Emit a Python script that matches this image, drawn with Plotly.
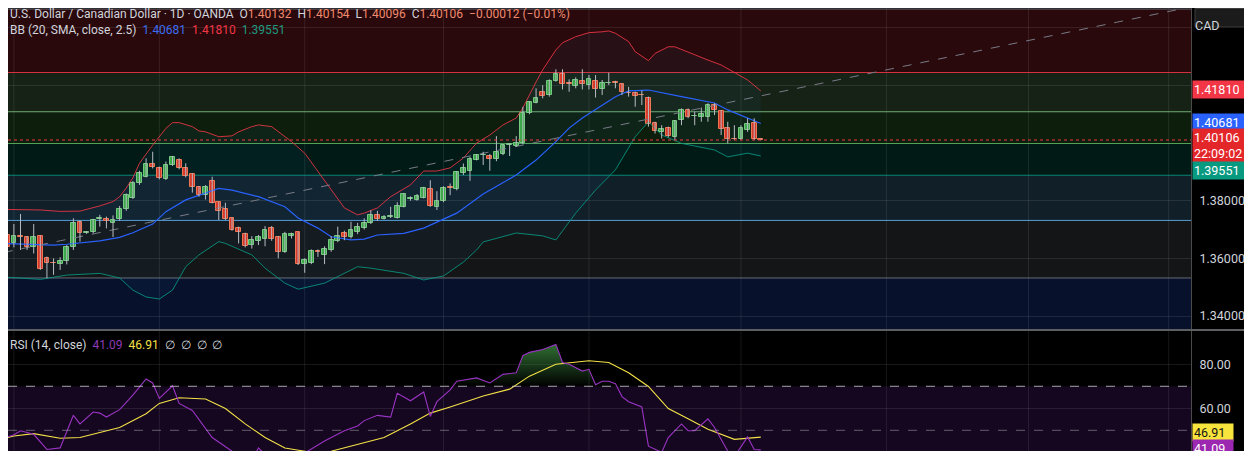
import plotly.graph_objects as go

# USD/CAD daily candles (OANDA), oldest first
opens = [1.3672, 1.3681, 1.3652, 1.3676, 1.3673, 1.3640, 1.3677, 1.3600, 1.3584, 1.3579,
         1.3591, 1.3638, 1.3725, 1.3687, 1.3693, 1.3737, 1.3737, 1.3721, 1.3735, 1.3771,
         1.3808, 1.3860, 1.3883, 1.3926, 1.3913, 1.3874, 1.3924, 1.3942, 1.3913, 1.3892,
         1.3846, 1.3819, 1.3869, 1.3794, 1.3770, 1.3739, 1.3704, 1.3686, 1.3648, 1.3661,
         1.3666, 1.3704, 1.3673, 1.3623, 1.3679, 1.3690, 1.3582, 1.3585, 1.3624, 1.3611,
         1.3629, 1.3659, 1.3689, 1.3675, 1.3693, 1.3704, 1.3721, 1.3750, 1.3738, 1.3745,
         1.3741, 1.3779, 1.3806, 1.3804, 1.3811, 1.3839, 1.3779, 1.3800, 1.3846, 1.3839,
         1.3897, 1.3904, 1.3943, 1.3958, 1.3954, 1.3944, 1.3961, 1.3993, 1.3990, 1.3999,
         1.4103, 1.4140, 1.4176, 1.4167, 1.4216, 1.4239, 1.4208, 1.4199, 1.4215, 1.4201,
         1.4216, 1.4186, 1.4208, 1.4211, 1.4205, 1.4173, 1.4172, 1.4167, 1.4158, 1.4068,
         1.4039, 1.4051, 1.4020, 1.4080, 1.4115, 1.4093, 1.4089, 1.4091, 1.4132, 1.4111,
         1.4051, 1.4015, 1.4013, 1.4047, 1.4068, 1.40132]
highs = [1.3711, 1.3698, 1.3719, 1.3754, 1.3677, 1.3719, 1.3679, 1.3606, 1.3600, 1.3604,
         1.3646, 1.3739, 1.3731, 1.3695, 1.3737, 1.3751, 1.3745, 1.3749, 1.3782, 1.3825,
         1.3868, 1.3904, 1.3947, 1.3970, 1.3918, 1.3936, 1.3955, 1.3947, 1.3930, 1.3895,
         1.3851, 1.3854, 1.3883, 1.3796, 1.3793, 1.3742, 1.3710, 1.3689, 1.3677, 1.3681,
         1.3712, 1.3712, 1.3677, 1.3692, 1.3689, 1.3692, 1.3600, 1.3631, 1.3631, 1.3642,
         1.3677, 1.3710, 1.3696, 1.3727, 1.3723, 1.3739, 1.3767, 1.3765, 1.3750, 1.3779,
         1.3795, 1.3826, 1.3815, 1.3823, 1.3848, 1.3871, 1.3833, 1.3850, 1.3860, 1.3902,
         1.3929, 1.3952, 1.3962, 1.3970, 1.3962, 1.4024, 1.3996, 1.3999, 1.4024, 1.4126,
         1.4145, 1.4190, 1.4201, 1.4221, 1.4256, 1.4256, 1.4221, 1.4228, 1.4256, 1.4236,
         1.4236, 1.4219, 1.4244, 1.4216, 1.4207, 1.4195, 1.4178, 1.4182, 1.4161, 1.4074,
         1.4062, 1.4057, 1.4080, 1.4120, 1.4120, 1.4109, 1.4123, 1.4138, 1.4138, 1.4114,
         1.4074, 1.4062, 1.4062, 1.4086, 1.4086, 1.40154]
lows = [1.3658, 1.3629, 1.3638, 1.3629, 1.3629, 1.3617, 1.3560, 1.3531, 1.3543, 1.3560,
        1.3579, 1.3629, 1.3658, 1.3685, 1.3687, 1.3710, 1.3704, 1.3674, 1.3731, 1.3765,
        1.3806, 1.3855, 1.3881, 1.3912, 1.3874, 1.3872, 1.3921, 1.3909, 1.3881, 1.3828,
        1.3814, 1.3804, 1.3791, 1.3733, 1.3733, 1.3696, 1.3652, 1.3638, 1.3634, 1.3646,
        1.3642, 1.3661, 1.3600, 1.3619, 1.3669, 1.3577, 1.3550, 1.3580, 1.3605, 1.3580,
        1.3623, 1.3656, 1.3663, 1.3669, 1.3684, 1.3700, 1.3719, 1.3730, 1.3735, 1.3740,
        1.3738, 1.3777, 1.3800, 1.3800, 1.3808, 1.3779, 1.3768, 1.3795, 1.3819, 1.3836,
        1.3889, 1.3869, 1.3940, 1.3924, 1.3904, 1.3937, 1.3958, 1.3955, 1.3987, 1.3996,
        1.4100, 1.4138, 1.4155, 1.4161, 1.4213, 1.4186, 1.4178, 1.4190, 1.4186, 1.4186,
        1.4158, 1.4167, 1.4201, 1.4190, 1.4167, 1.4161, 1.4126, 1.4132, 1.4057, 1.4033,
        1.4016, 1.4020, 1.4010, 1.4062, 1.4086, 1.4062, 1.4074, 1.4074, 1.4097, 1.4028,
        1.3999, 1.4010, 1.4010, 1.4039, 1.4010, 1.40096]
closes = [1.3686, 1.3640, 1.3677, 1.3674, 1.3640, 1.3673, 1.3562, 1.3585, 1.3583, 1.3592,
          1.3638, 1.3721, 1.3687, 1.3693, 1.3733, 1.3740, 1.3728, 1.3733, 1.3773, 1.3821,
          1.3863, 1.3895, 1.3926, 1.3916, 1.3878, 1.3924, 1.3951, 1.3913, 1.3887, 1.3846,
          1.3819, 1.3846, 1.3793, 1.3765, 1.3735, 1.3700, 1.3692, 1.3642, 1.3663, 1.3673,
          1.3698, 1.3666, 1.3623, 1.3684, 1.3683, 1.3580, 1.3594, 1.3626, 1.3622, 1.3634,
          1.3664, 1.3677, 1.3675, 1.3698, 1.3710, 1.3723, 1.3750, 1.3735, 1.3742, 1.3748,
          1.3783, 1.3823, 1.3809, 1.3816, 1.3845, 1.3781, 1.3799, 1.3845, 1.3843, 1.3898,
          1.3914, 1.3944, 1.3957, 1.3959, 1.3944, 1.3968, 1.3992, 1.3996, 1.3999, 1.4106,
          1.4141, 1.4158, 1.4164, 1.4216, 1.4238, 1.4205, 1.4206, 1.4219, 1.4204, 1.4222,
          1.4186, 1.4207, 1.4210, 1.4209, 1.4178, 1.4172, 1.4163, 1.4166, 1.4065, 1.4043,
          1.4048, 1.4025, 1.4076, 1.4115, 1.4091, 1.4094, 1.4101, 1.4132, 1.4114, 1.4049,
          1.4013, 1.4014, 1.4051, 1.4065, 1.4014, 1.40106]

# Bollinger Bands (20, SMA, close, 2.5) sampled at bar index
bb_up_idx = [0, 3, 6, 9, 12, 15, 17, 18, 19, 20, 21, 23, 25, 26, 27, 29, 30, 31, 33, 35,
             36, 38, 39, 41, 42, 44, 46, 48, 50, 52, 54, 55, 57, 59, 62, 64, 66, 68, 70, 72,
             74, 76, 78, 79, 81, 82, 84, 85, 87, 89, 91, 92, 93, 95, 96, 98, 99, 101, 102, 104,
             105, 107, 109, 111, 113, 115]
bb_upper = [1.3770, 1.3770, 1.3768, 1.3763, 1.3764, 1.3782, 1.3797, 1.3814, 1.3844, 1.3879,
            1.3930, 1.3993, 1.4051, 1.4071, 1.4071, 1.4057, 1.4042, 1.4039, 1.4022, 1.4025,
            1.4039, 1.4057, 1.4063, 1.4057, 1.4039, 1.4005, 1.3965, 1.3901, 1.3837, 1.3775,
            1.3751, 1.3757, 1.3775, 1.3814, 1.3855, 1.3903, 1.3903, 1.3914, 1.3948, 1.4000,
            1.4028, 1.4063, 1.4087, 1.4122, 1.4212, 1.4254, 1.4323, 1.4348, 1.4369, 1.4383,
            1.4386, 1.4389, 1.4381, 1.4352, 1.4317, 1.4286, 1.4311, 1.4334, 1.4334, 1.4315,
            1.4306, 1.4288, 1.4271, 1.4244, 1.4219, 1.41810]
bb_mid_idx = [0, 5, 8, 10, 15, 18, 20, 23, 25, 28, 30, 33, 35, 39, 43, 45, 48, 50, 53, 55,
              57, 61, 64, 69, 73, 78, 81, 84, 86, 88, 93, 95, 98, 100, 103, 108, 110, 115]
bb_middle = [1.3652, 1.3649, 1.3646, 1.3649, 1.3661, 1.3673, 1.3689, 1.3719, 1.3762, 1.3803,
             1.3820, 1.3843, 1.3837, 1.3814, 1.3779, 1.3740, 1.3705, 1.3675, 1.3664, 1.3667,
             1.3681, 1.3687, 1.3705, 1.3757, 1.3823, 1.3889, 1.3941, 1.4005, 1.4052, 1.4087,
             1.4161, 1.4181, 1.4184, 1.4174, 1.4161, 1.4139, 1.4115, 1.40681]
bb_low_idx = [0, 6, 10, 15, 18, 20, 22, 24, 26, 28, 30, 33, 34, 38, 40, 43, 45, 49, 54, 56,
              61, 64, 67, 70, 72, 73, 78, 82, 84, 87, 90, 93, 96, 98, 100, 103, 108, 110, 113, 115]
bb_lower = [1.3536, 1.3527, 1.3542, 1.3548, 1.3532, 1.3490, 1.3466, 1.3459, 1.3490, 1.3571,
            1.3612, 1.3658, 1.3652, 1.3612, 1.3566, 1.3514, 1.3493, 1.3514, 1.3571, 1.3566,
            1.3548, 1.3525, 1.3539, 1.3587, 1.3629, 1.3657, 1.3688, 1.3678, 1.3664, 1.3757,
            1.3837, 1.3907, 1.4022, 1.4074, 1.4028, 1.3999, 1.3976, 1.3952, 1.3965, 1.39551]

# RSI (14, close) and its 14 SMA, sampled at bar index
rsi_idx = [0, 2, 3, 5, 7, 9, 11, 12, 14, 15, 16, 18, 20, 22, 23, 24, 26, 27, 29, 30,
           32, 35, 36, 38, 39, 40, 42, 44, 45, 46, 49, 52, 54, 55, 57, 59, 60, 62, 64, 65,
           66, 68, 69, 72, 74, 76, 78, 79, 80, 82, 84, 85, 86, 88, 89, 90, 91, 92, 93, 94,
           95, 97, 98, 100, 101, 103, 104, 105, 107, 108, 110, 111, 113, 114, 115]
rsi_vals = [45.9, 48.0, 49.8, 48.2, 41.3, 42.0, 56.8, 52.9, 58.3, 57.8, 56.0, 59.4, 66.0, 73.3, 71.5,
            64.5, 70.2, 62.2, 59.0, 54.7, 46.7, 40.5, 37.5, 36.0, 42.0, 39.0, 36.0, 37.0, 32.0, 39.7,
            45.1, 49.8, 52.0, 54.4, 56.8, 56.0, 66.8, 63.4, 67.4, 56.3, 63.0, 68.4, 72.3, 73.8, 71.5,
            75.4, 76.1, 83.9, 85.4, 86.7, 89.0, 80.8, 80.0, 76.9, 77.7, 70.7, 72.3, 72.3, 71.2, 65.3,
            63.0, 60.6, 42.8, 40.0, 46.7, 52.9, 49.8, 49.8, 55.2, 51.3, 40.5, 38.0, 47.0, 41.3, 41.09]
rsi_ma_idx = [0, 2, 5, 7, 9, 12, 15, 18, 22, 24, 27, 31, 34, 37, 40, 43, 46, 48, 50, 54,
              58, 62, 65, 68, 73, 77, 80, 84, 89, 92, 95, 98, 101, 104, 107, 111, 113, 115]
rsi_ma = [45.9, 47.4, 48.5, 47.4, 46.4, 46.7, 49.0, 51.3, 57.5, 62.2, 64.8, 64.2, 59.9, 52.9,
          46.7, 42.0, 40.5, 39.2, 40.5, 43.6, 46.7, 52.9, 57.8, 60.6, 65.6, 68.7, 74.6, 80.0,
          81.6, 80.8, 76.1, 69.9, 59.9, 55.2, 50.5, 45.9, 46.4, 46.91]

# Fib retracement anchors
fib_high = 1.4465
fib_low = 1.3532
fib_levels = [0, 0.236, 0.382, 0.5, 0.618, 0.786, 1, 1.618]
fib_colors = ["#787b86", "#f23645", "#81c784", "#4caf50", "#089981", "#64b5f6", "#787b86", "#2962ff"]
trend_idx = [-18.2, 178.5]

last_price = 1.40106
month_lines = [2, 24, 46, 67, 89, 112, 134, 155.5, 176.7]

# the page body keeps an 8px margin, so the figure is drawn 8px smaller
# and every screen position below is given in window pixels minus OFF
OFF = 8
W, H = 1252 - OFF, 451 - OFF
BAR_PX = 6.61
PX_PRICE = 2882.5
FONT = "Roboto"
TXT = "#d1d4dc"
GREEN, GREEN_EDGE = "#3fa843", "#7ccb7c"
RED, RED_EDGE = "#e0341f", "#f7764f"


def px(x):
    return (x - OFF) / W


def py(y):
    return 1 - (y - OFF) / H


def rgba(hex_color, a):
    h = hex_color.lstrip("#")
    return "rgba(%d,%d,%d,%s)" % (int(h[0:2], 16), int(h[2:4], 16), int(h[4:6], 16), a)


n = len(closes)
idx = list(range(n))
up = [c >= o for o, c in zip(opens, closes)]

fig = go.Figure()

# Bollinger bands with soft background
fig.add_trace(go.Scatter(x=bb_up_idx, y=bb_upper, mode="lines",
                         line=dict(color=rgba("#f23645", 0.85), width=1)))
fig.add_trace(go.Scatter(x=bb_low_idx, y=bb_lower, mode="lines", fill="tonexty",
                         fillcolor="rgba(33,150,243,0.05)",
                         line=dict(color=rgba("#089981", 0.85), width=1)))
fig.add_trace(go.Scatter(x=bb_mid_idx, y=bb_middle, mode="lines",
                         line=dict(color="#2962ff", width=1.2)))

# fib trend line
fig.add_trace(go.Scatter(x=trend_idx, y=[fib_low, fib_high], mode="lines",
                         line=dict(color="#787b86", width=1, dash="dash")))

# candle wicks
wx, wy = [], []
for i in idx:
    wx += [i, i, None]
    wy += [lows[i], highs[i], None]
fig.add_trace(go.Scatter(x=wx, y=wy, mode="lines", line=dict(color="#b8bcc4", width=1)))

# candle bodies
fig.add_trace(go.Bar(
    x=idx,
    base=[min(o, c) for o, c in zip(opens, closes)],
    y=[max(abs(c - o), 0.00003) for o, c in zip(opens, closes)],
    width=0.72,
    marker=dict(color=[GREEN if u else RED for u in up],
                line=dict(color=[GREEN_EDGE if u else RED_EDGE for u in up], width=1)),
))

# RSI pane
fig.add_trace(go.Scatter(x=rsi_idx, y=[70] * len(rsi_idx), mode="lines",
                         line=dict(width=0), xaxis="x2", yaxis="y2"))
fig.add_trace(go.Scatter(
    x=rsi_idx, y=[max(v, 70) for v in rsi_vals], mode="lines", fill="tonexty",
    fillgradient=dict(type="vertical", start=70, stop=100,
                      colorscale=[[0, "rgba(76,175,80,0)"], [1, "rgba(76,175,80,1)"]]),
    line=dict(width=0), xaxis="x2", yaxis="y2"))
fig.add_trace(go.Scatter(x=rsi_ma_idx, y=rsi_ma, mode="lines",
                         line=dict(color="#f5e148", width=1.1), xaxis="x2", yaxis="y2"))
fig.add_trace(go.Scatter(x=rsi_idx, y=rsi_vals, mode="lines",
                         line=dict(color="#9b34c4", width=1.1), xaxis="x2", yaxis="y2"))

# shapes: fib zones and levels, grid, separators
shapes = []
fib_prices = [fib_high - lv * (fib_high - fib_low) for lv in fib_levels]
for i in range(1, len(fib_prices)):
    shapes.append(dict(type="rect", xref="x domain", yref="y", x0=0, x1=1,
                       y0=fib_prices[i - 1], y1=fib_prices[i], layer="below",
                       fillcolor=rgba(fib_colors[i], 0.17), line=dict(width=0)))
shapes.append(dict(type="rect", xref="x2 domain", yref="y2", x0=0, x1=1, y0=30, y1=70,
                   layer="below", fillcolor="#14071f", line=dict(width=0)))
for m in month_lines:
    for xr, yr in [("x", "y domain"), ("x2", "y2 domain")]:
        shapes.append(dict(type="line", xref=xr, yref=yr, x0=m, x1=m, y0=0, y1=1,
                           layer="below", line=dict(color="rgba(255,255,255,0.09)", width=1)))
for p, col in zip(fib_prices, fib_colors):
    shapes.append(dict(type="line", xref="x domain", yref="y", x0=0, x1=1, y0=p, y1=p,
                       layer="below", line=dict(color=rgba(col, 0.85), width=1)))
shapes.append(dict(type="line", xref="x domain", yref="y", x0=0, x1=1, y0=last_price,
                   y1=last_price, line=dict(color="#f23645", width=1, dash="dot")))
for lvl, col in [(70, "rgba(220,220,220,0.75)"), (50, "rgba(180,180,190,0.5)")]:
    shapes.append(dict(type="line", xref="x2 domain", yref="y2", x0=0, x1=1, y0=lvl, y1=lvl,
                       line=dict(color=col, width=1, dash="dash")))
shapes.append(dict(type="line", xref="paper", yref="paper", x0=0, x1=1,
                   y0=py(330), y1=py(330), line=dict(color="#b9bcc4", width=1.2)))
shapes.append(dict(type="rect", xref="paper", yref="paper", x0=px(1195), x1=px(1249),
                   y0=py(27), y1=py(8.5), fillcolor="#1b1b1b",
                   line=dict(color="#3f3f3f", width=1)))
fig.update_layout(shapes=shapes)

# text
ann = []
val = "#f08a6c"
sp = "\u00a0\u00a0"
line1 = ("U.S. Dollar / Canadian Dollar · 1D · OANDA" + sp +
         "O<span style='color:%s'>1.40132</span>" % val + sp +
         "H<span style='color:%s'>1.40154</span>" % val + sp +
         "L<span style='color:%s'>1.40096</span>" % val + sp +
         "C<span style='color:%s'>1.40106</span>" % val + sp +
         "<span style='color:%s'>−0.00012 (−0.01%%)</span>" % val)
line2 = ("BB (20, SMA, close, 2.5)" + sp +
         "<span style='color:#3a6df0'>1.40681</span>" + sp +
         "<span style='color:#f23645'>1.41810</span>" + sp +
         "<span style='color:#1f9a80'>1.39551</span>")
line3 = ("RSI (14, close)" + sp +
         "<span style='color:#8e3bb5'>41.09</span>" + sp +
         "<span style='color:#f5e148'>46.91</span>" + sp + "∅\u00a0\u00a0∅\u00a0\u00a0∅\u00a0\u00a0∅")
for t, ypos in [(line1, 14), (line2, 30), (line3, 345)]:
    ann.append(dict(text=t, xref="paper", yref="paper", x=px(8), y=py(ypos),
                    xanchor="left", yanchor="middle", showarrow=False,
                    font=dict(family=FONT, size=12, color=TXT)))
ann.append(dict(text="CAD", xref="paper", yref="paper", x=px(1222), y=py(16),
                showarrow=False, font=dict(family=FONT, size=12.5, color=TXT)))

labels = [
    ("y", 1.41810, "1.41810", "#f23645", "white", 1.7),
    ("y", 1.40681, "1.40681", "#2962ff", "white", 1.2),
    ("y", 1.40106, "1.40106<br>22:09:02", "#e3262a", "white", -5.6),
    ("y", 1.39551, "1.39551", "#089981", "white", -14.5),
    ("y2", 46.91, "46.91", "#f7e43c", "#131313", 4.6),
    ("y2", 41.09, "41.09", "#9c27b0", "white", 1.0),
]
for yref, yv, txt, bg, fg, ysh in labels:
    ann.append(dict(text=txt, xref="paper", yref=yref, x=px(1192), y=yv, yshift=ysh,
                    xanchor="left", yanchor="middle", showarrow=False, align="left",
                    bgcolor=bg, borderpad=1, width=52 if yref == "y" else 38,
                    font=dict(family=FONT, size=12.5, color=fg)))

# bar index at the window's left edge is -0.1; the figure starts OFF px later
x_lo = -0.1 + OFF / BAR_PX
x_hi = -0.1 + 1191 / BAR_PX
axis_common = dict(range=[x_lo, x_hi], showticklabels=False, showgrid=False,
                   zeroline=False, domain=[0, px(1191)])
grid = "rgba(255,255,255,0.09)"

fig.update_layout(
    width=W, height=H,
    margin=dict(l=0, r=0, t=0, b=0),
    paper_bgcolor="#000000", plot_bgcolor="#000000",
    showlegend=False, hovermode=False, bargap=0,
    annotations=ann,
    xaxis=dict(anchor="y", **axis_common),
    xaxis2=dict(anchor="y2", matches="x", **axis_common),
    yaxis=dict(domain=[py(329), 1], range=[1.33550, 1.44963 - OFF / PX_PRICE], side="right",
               tickvals=[1.34, 1.36, 1.38, 1.40, 1.42, 1.44],
               ticktext=["1.34000", "1.36000", "1.38000", "", "1.42000", ""],
               gridcolor=grid, zeroline=False, showline=True, linecolor="#4a4a4a",
               ticks="", ticklabelstandoff=5, automargin=False,
               tickfont=dict(family=FONT, size=12.5, color=TXT)),
    yaxis2=dict(domain=[0, py(331)], range=[40.6, 95.1], side="right",
                tickvals=[40, 60, 80], ticktext=["", "60.00", "80.00"],
                gridcolor=grid, zeroline=False, showline=True, linecolor="#4a4a4a",
                ticks="", ticklabelstandoff=5, automargin=False,
                tickfont=dict(family=FONT, size=12.5, color=TXT)),
)

fig.write_html("out.html")
